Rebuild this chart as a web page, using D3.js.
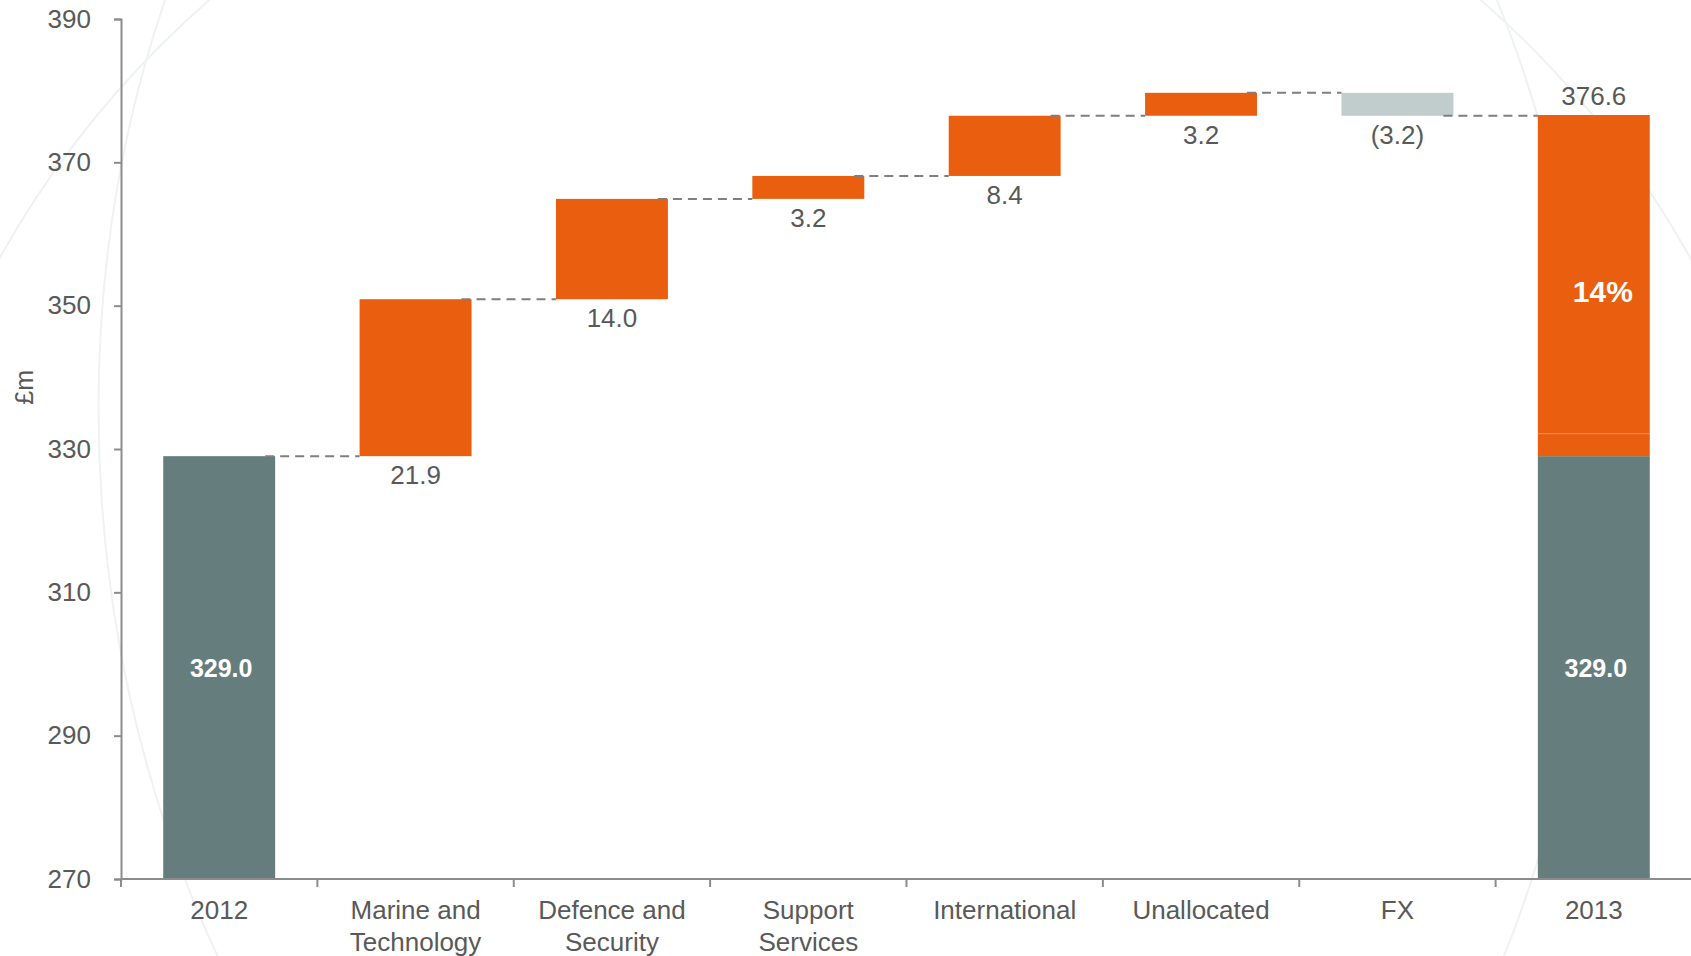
<!DOCTYPE html>
<html>
<head>
<meta charset="utf-8">
<script src="https://cdn.jsdelivr.net/npm/d3@7"></script>
<style>
  html, body { margin: 0; padding: 0; background: #ffffff; }
  svg { display: block; font-family: "Liberation Sans", Arial, sans-serif; }
</style>
</head>
<body>
<svg id="chart" width="1691" height="956"></svg>
<script>
// Revenue bridge 2012 -> 2013 (£m)
const categoryLines = [
  ["2012"],
  ["Marine and", "Technology"],
  ["Defence and", "Security"],
  ["Support", "Services"],
  ["International"],
  ["Unallocated"],
  ["FX"],
  ["2013"]
];
const openingValue = 329.0;
const changes = [21.9, 14.0, 3.2, 8.4, 3.2, -3.2];
const closingValue = 376.6;
const closingIncrements = [3.2, 44.4];   // stacked on top of the 2012 base
const growthLabel = "14%";
const yTicks = [270, 290, 310, 330, 350, 370, 390];
const yDomain = [270, 390];

const colors = {
  base: "#657e7d",
  up: "#e95e0f",
  down: "#c1cdcc",
  text: "#595959",
  axis: "#8c8c8c",
  connector: "#7f7f7f",
  decor: "#eef2f3"
};

const svg = d3.select("#chart");
const W = 1691, H = 956;
const plot = { left: 121, right: 1692, top: 19, bottom: 879 };

const categories = categoryLines.map(l => l.join(" "));

const x = d3.scaleBand()
  .domain(categories)
  .range([plot.left, plot.right])
  .paddingInner(0.43)
  .paddingOuter(0.215);

const y = d3.scaleLinear().domain(yDomain).range([plot.bottom, plot.top]);

// faint globe outline in the background
const decor = svg.append("g").attr("fill", "none").attr("stroke", colors.decor).attr("stroke-width", 2);
decor.append("circle").attr("cx", 845).attr("cy", 730).attr("r", 968);
decor.append("ellipse").attr("cx", 845).attr("cy", 450).attr("rx", 745).attr("ry", 1000)
  .attr("transform", "rotate(-4 845 450)");

// build waterfall segments
const segments = [];
segments.push({ cat: categories[0], y0: yDomain[0], y1: openingValue, fill: colors.base });
let running = openingValue;
changes.forEach((c, i) => {
  const start = running;
  running = +(running + c).toFixed(1);
  segments.push({
    cat: categories[i + 1],
    y0: Math.min(start, running),
    y1: Math.max(start, running),
    fill: c >= 0 ? colors.up : colors.down,
    change: c,
    level: running
  });
});
const lastCat = categories[categories.length - 1];
segments.push({ cat: lastCat, y0: yDomain[0], y1: openingValue, fill: colors.base });
let stackTop = openingValue;
closingIncrements.forEach(v => {
  const s = stackTop;
  stackTop = +(stackTop + v).toFixed(1);
  segments.push({ cat: lastCat, y0: s, y1: stackTop, fill: colors.up, split: true });
});

// connectors between consecutive bars
const levels = [openingValue];
let acc = openingValue;
changes.forEach(c => { acc = +(acc + c).toFixed(1); levels.push(acc); });
const connectors = levels.map((lv, i) => ({
  x1: x(categories[i]) + x.bandwidth() - 10,
  x2: x(categories[i + 1]),
  level: lv
}));

svg.append("g").selectAll("rect")
  .data(segments)
  .join("rect")
  .attr("x", d => x(d.cat))
  .attr("width", x.bandwidth())
  .attr("y", d => y(d.y1))
  .attr("height", d => y(d.y0) - y(d.y1))
  .attr("fill", d => d.fill);

// thin seam between the stacked orange pieces of the closing bar
svg.append("g").selectAll("line")
  .data(segments.filter(d => d.split).slice(1))
  .join("line")
  .attr("x1", d => x(d.cat))
  .attr("x2", d => x(d.cat) + x.bandwidth())
  .attr("y1", d => y(d.y0) + 0.5)
  .attr("y2", d => y(d.y0) + 0.5)
  .attr("stroke", "#f28a55")
  .attr("stroke-width", 1);

svg.append("g").selectAll("line")
  .data(connectors)
  .join("line")
  .attr("x1", d => d.x1)
  .attr("x2", d => d.x2)
  .attr("y1", d => y(d.level))
  .attr("y2", d => y(d.level))
  .attr("stroke", colors.connector)
  .attr("stroke-width", 2)
  .attr("stroke-dasharray", "9,6");

// y axis
const yAxis = svg.append("g")
  .attr("transform", `translate(${plot.left},0)`)
  .call(d3.axisLeft(y).tickValues(yTicks).tickSize(7).tickPadding(23).tickFormat(d3.format("d")));
yAxis.select(".domain").attr("stroke", colors.axis).attr("stroke-width", 2);
yAxis.selectAll(".tick line").attr("stroke", colors.axis).attr("stroke-width", 2);
yAxis.selectAll(".tick text").attr("fill", colors.text).attr("font-size", 26)
  .attr("font-family", "Liberation Sans, Arial, sans-serif");

// x axis: baseline with ticks on category boundaries
const xAxis = svg.append("g");
xAxis.append("line")
  .attr("x1", plot.left).attr("x2", W)
  .attr("y1", plot.bottom).attr("y2", plot.bottom)
  .attr("stroke", colors.axis).attr("stroke-width", 2);
const boundaries = categories.map(c => x(c) - x.step() * x.paddingInner() / 2);
xAxis.selectAll("line.tick")
  .data(boundaries)
  .join("line")
  .attr("class", "tick")
  .attr("x1", d => d).attr("x2", d => d)
  .attr("y1", plot.bottom).attr("y2", plot.bottom + 8)
  .attr("stroke", colors.axis).attr("stroke-width", 2);

const catLabels = xAxis.selectAll("text")
  .data(categoryLines)
  .join("text")
  .attr("text-anchor", "middle")
  .attr("fill", colors.text)
  .attr("font-size", 26)
  .attr("transform", (d, i) => `translate(${x(categories[i]) + x.bandwidth() / 2},${plot.bottom + 40})`);
catLabels.selectAll("tspan")
  .data(d => d)
  .join("tspan")
  .attr("x", 0)
  .attr("dy", (d, i) => i === 0 ? 0 : 32)
  .text(d => d);

// y axis title
svg.append("text")
  .attr("transform", `translate(33,${(y(330) + y(350)) / 2 + 10}) rotate(-90)`)
  .attr("text-anchor", "middle")
  .attr("fill", colors.text)
  .attr("font-size", 25)
  .text("£m");

// change labels under each floating bar
const fmt = v => v < 0 ? `(${Math.abs(v).toFixed(1)})` : v.toFixed(1);
svg.append("g").selectAll("text")
  .data(segments.filter(d => d.change !== undefined))
  .join("text")
  .attr("x", d => x(d.cat) + x.bandwidth() / 2)
  .attr("y", d => y(d.y0) + 28)
  .attr("text-anchor", "middle")
  .attr("fill", colors.text)
  .attr("font-size", 26)
  .text(d => fmt(d.change));

// totals
svg.append("text")
  .attr("x", x(lastCat) + x.bandwidth() / 2)
  .attr("y", y(closingValue) - 10)
  .attr("text-anchor", "middle")
  .attr("fill", colors.text)
  .attr("font-size", 26)
  .text(closingValue.toFixed(1));

[categories[0], lastCat].forEach(c => {
  svg.append("text")
    .attr("x", x(c) + x.bandwidth() / 2 + 2)
    .attr("y", (y(yDomain[0]) + y(openingValue)) / 2 + 9)
    .attr("text-anchor", "middle")
    .attr("fill", "#ffffff")
    .attr("font-weight", "bold")
    .attr("font-size", 25)
    .text(openingValue.toFixed(1));
});

svg.append("text")
  .attr("x", x(lastCat) + x.bandwidth() / 2 + 9)
  .attr("y", (y(openingValue) + y(closingValue)) / 2 + 16)
  .attr("text-anchor", "middle")
  .attr("fill", "#ffffff")
  .attr("font-weight", "bold")
  .attr("font-size", 30)
  .text(growthLabel);
</script>
</body>
</html>
